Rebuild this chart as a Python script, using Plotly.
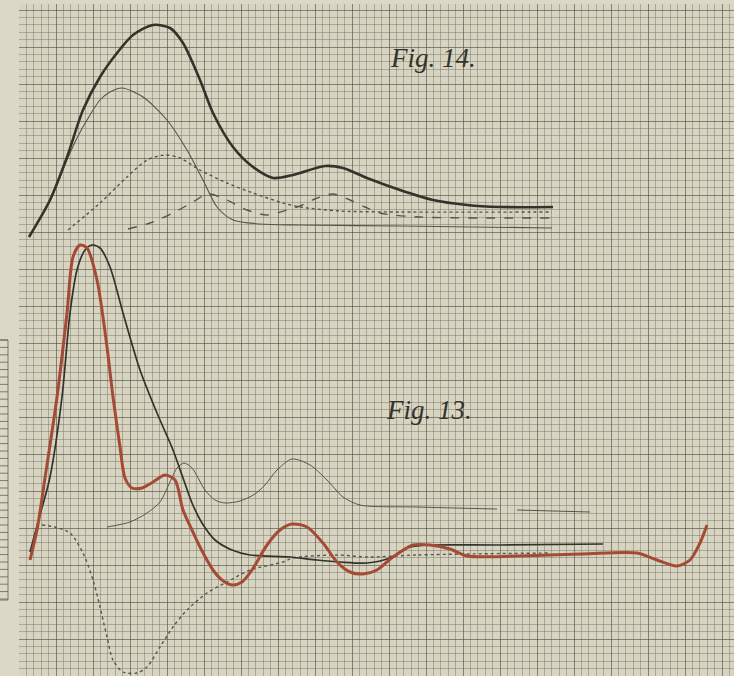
import plotly.graph_objects as go

# Units: arbitrary graph-paper units (x to the right, y upwards)

# ---- Fig. 14 ----
f14_total_x = [1.0, 3.1, 4.8, 6.4, 8.1, 9.8, 11.4, 13.4, 15.1, 16.4, 18.1, 19.4, 21.4, 23.4, 25.4, 27.4, 28.1, 30.6, 32.4, 34.8, 38.1, 41.4, 44.8, 48.1, 53.4]
f14_total_y = [43.9, 47.6, 51.9, 56.6, 59.9, 62.3, 64.1, 65.1, 64.8, 63.3, 59.6, 56.3, 52.9, 50.9, 49.8, 50.1, 50.3, 51.0, 50.8, 49.8, 48.6, 47.6, 47.1, 46.9, 46.9]

f14_first_x = [1.0, 3.1, 4.8, 5.8, 6.8, 8.1, 9.1, 10.3, 12.4, 14.8, 16.8, 18.4, 19.8, 21.4, 24.1, 28.1, 38.1, 53.3]
f14_first_y = [43.9, 47.5, 51.6, 53.8, 55.6, 57.6, 58.4, 58.8, 57.9, 55.6, 52.6, 49.6, 46.9, 45.6, 45.2, 45.1, 45.0, 44.8]

f14_second_x = [4.9, 8.1, 10.8, 12.8, 14.6, 16.1, 18.1, 20.8, 23.4, 26.4, 28.1, 32.1, 38.1, 53.3]
f14_second_y = [44.6, 47.3, 49.9, 51.6, 52.1, 51.8, 50.6, 49.3, 48.3, 47.3, 46.9, 46.5, 46.4, 46.4]

f14_third_x = [10.9, 13.1, 15.4, 17.4, 18.9, 20.8, 22.8, 24.8, 26.8, 28.1, 29.6, 31.4, 33.1, 34.6, 36.1, 40.1, 53.3]
f14_third_y = [44.7, 45.3, 46.3, 47.4, 48.2, 47.6, 46.6, 46.1, 46.6, 47.0, 47.7, 48.2, 47.6, 46.9, 46.3, 45.9, 45.8]

# ---- Fig. 13 ----
f13_black_x = [1.1, 2.1, 3.1, 4.3, 5.1, 5.8, 6.6, 7.3, 8.1, 9.1, 10.4, 12.1, 13.8, 15.4, 16.4, 17.3, 18.3, 19.6, 21.3, 23.1, 27.1, 29.8, 32.1, 34.8, 37.1, 39.1, 41.4, 48.1, 58.4]
f13_black_y = [12.4, 16.1, 19.9, 27.9, 36.3, 40.6, 42.6, 43.1, 42.8, 40.9, 36.3, 30.6, 26.3, 22.6, 19.8, 17.3, 15.3, 13.6, 12.6, 12.1, 11.9, 11.6, 11.4, 11.3, 11.8, 12.9, 13.1, 13.1, 13.2]

f13_red_x = [1.1, 1.8, 2.6, 3.8, 4.8, 5.4, 6.1, 6.8, 7.8, 8.8, 9.4, 10.1, 10.6, 11.3, 12.3, 13.4, 14.6, 15.6, 16.4, 17.3, 18.1, 19.4, 20.3, 21.3, 22.3, 23.3, 24.8, 26.1, 27.3, 28.8, 30.4, 31.8, 33.1, 34.4, 35.8, 37.4, 39.4, 41.1, 43.1, 44.8, 49.8, 56.4, 61.8, 63.8, 65.8, 67.1, 68.1, 68.8]
f13_red_y = [11.6, 14.6, 19.8, 27.9, 36.3, 41.9, 43.1, 42.8, 39.6, 32.9, 27.9, 22.9, 19.8, 18.8, 18.8, 19.4, 20.1, 19.6, 16.6, 14.6, 12.9, 10.6, 9.6, 9.1, 9.4, 10.6, 13.1, 14.6, 15.2, 14.9, 13.3, 11.4, 10.4, 10.2, 10.6, 11.9, 13.1, 13.1, 12.7, 12.0, 12.0, 12.2, 12.3, 11.6, 11.0, 11.6, 13.3, 15.1]

f13_thin_x = [8.8, 11.1, 12.8, 14.1, 15.1, 15.8, 16.5, 17.3, 18.6, 19.6, 20.6, 22.1, 23.6, 24.6, 25.8, 27.3, 29.1, 30.8, 32.4, 34.1, 39.8, 47.8, None, 49.8, 57.1]
f13_thin_y = [14.9, 15.4, 16.3, 17.4, 19.4, 20.8, 21.3, 20.8, 18.6, 17.6, 17.3, 17.5, 18.2, 19.1, 20.6, 21.7, 21.1, 19.6, 17.9, 17.1, 16.9, 16.7, None, 16.6, 16.4]

f13_dotted_x = [2.3, 3.6, 5.1, 6.4, 7.4, 8.1, 8.8, 9.4, 10.4, 11.8, 12.8, 14.1, 15.4, 16.8, 18.8, 20.8, 23.1, 26.4, 27.4, 31.8, 34.8, 39.8, 44.8, 53.1]
f13_dotted_y = [15.1, 14.9, 14.3, 12.3, 9.6, 6.9, 3.9, 1.6, 0.4, 0.3, 0.9, 2.9, 4.9, 6.6, 8.3, 9.4, 10.6, 11.4, 11.8, 12.1, 11.9, 12.1, 12.2, 12.3]

labels = ["<i>Fig. 14.</i>", "<i>Fig. 13.</i>"]
label_x = [41.4, 41.0]
label_y = [61.8, 26.6]

CELL = 0.74  # size of one small square of the graph paper

ink = "#33332c"
ink_thin = "#55554b"
red = "#a54a34"

fig = go.Figure()

def add(x, y, color, width, dash="solid"):
    fig.add_trace(go.Scatter(x=x, y=y, mode="lines", connectgaps=False,
                             line=dict(color=color, width=width, dash=dash,
                                       shape="spline", smoothing=0.8),
                             hoverinfo="skip", showlegend=False))

add(f14_first_x, f14_first_y, ink_thin, 1.1)
add(f14_second_x, f14_second_y, ink_thin, 1.4, "dot")
add(f14_third_x, f14_third_y, ink_thin, 1.4, "dash")
add(f14_total_x, f14_total_y, ink, 2.6)

add(f13_thin_x, f13_thin_y, ink_thin, 1.0)
add(f13_dotted_x, f13_dotted_y, ink_thin, 1.4, "dot")
add(f13_black_x, f13_black_y, ink, 1.7)
add(f13_red_x, f13_red_y, red, 3.0)

for t, x, y in zip(labels, label_x, label_y):
    fig.add_annotation(x=x, y=y, text=t, showarrow=False,
                       font=dict(family="Liberation Serif", size=27, color="#33332c"))

# small fragment of another sheet at the left edge
W, H = 734, 676
path = "M 0 %.4f L %.4f %.4f L %.4f %.4f L 0 %.4f" % (
    (H - 340) / H, 8 / W, (H - 340) / H, 8 / W, (H - 600) / H, (H - 600) / H)
yy = 340.0
while yy <= 600:
    path += " M 0 %.4f L %.4f %.4f" % ((H - yy) / H, 8 / W, (H - yy) / H)
    yy += 7.4
fig.add_shape(type="path", path=path, xref="paper", yref="paper",
              line=dict(color="rgba(95,90,75,0.75)", width=1), layer="above")

axis_common = dict(showticklabels=False, zeroline=False, showline=False,
                   ticks="", tick0=0, dtick=CELL * 5,
                   gridcolor="rgba(80,76,62,0.62)", gridwidth=1.1,
                   minor=dict(dtick=CELL, tick0=0, showgrid=True,
                              gridcolor="rgba(110,105,90,0.42)", gridwidth=1))

fig.update_layout(
    width=W, height=H,
    margin=dict(l=0, r=0, t=0, b=0),
    paper_bgcolor="#dbd8c7",
    plot_bgcolor="#d8d4c2",
    xaxis=dict(range=[0, 71.5], domain=[19 / W, 1], fixedrange=True, **axis_common),
    yaxis=dict(range=[0, 67.2], domain=[0, 672 / H], fixedrange=True, **axis_common),
)

fig.write_html("out.html", config={"displayModeBar": False},
               post_script="document.body.style.margin='0';document.body.style.overflow='hidden';")
